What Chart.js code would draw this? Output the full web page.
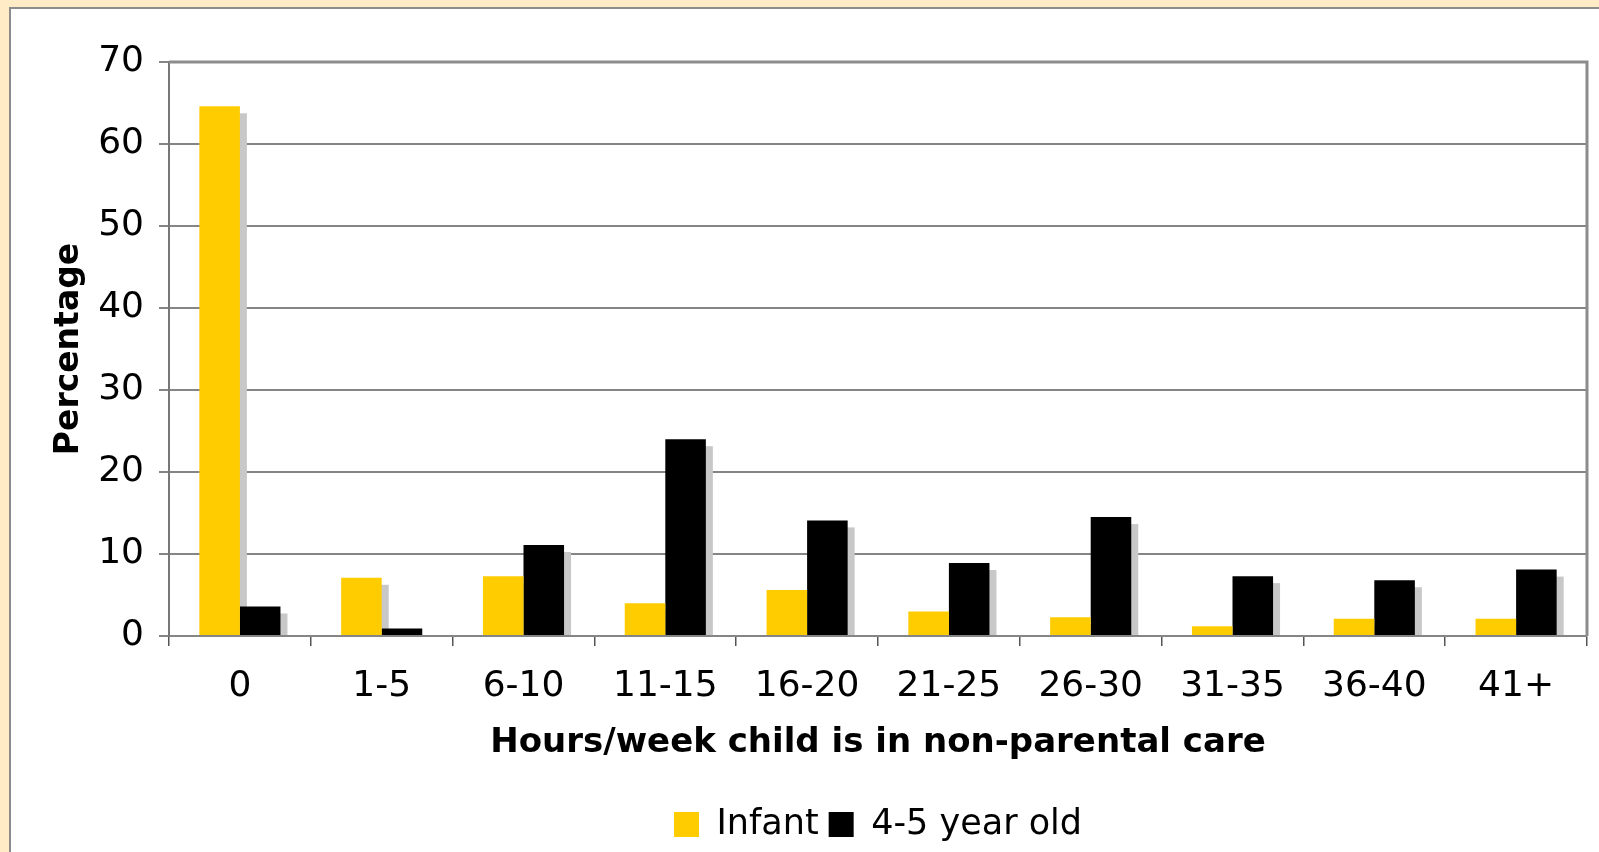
<!DOCTYPE html>
<html>
<head>
<meta charset="utf-8">
<script src="https://cdn.jsdelivr.net/npm/chart.js@4.4.0/dist/chart.umd.min.js"></script>
<style>
  html, body { margin: 0; padding: 0; background: #ffebc6; overflow: hidden; }
  #panel { position: absolute; left: 9px; top: 7px; width: 1620px; height: 880px;
           background: #fff; border: 2px solid #8c8c8c; }
  #chart { position: absolute; left: 0; top: 0; }
</style>
</head>
<body>
<div id="panel"></div>
<canvas id="chart" width="1599" height="852"></canvas>
<script>
// hours of non-parental care per week
const categories = ['0', '1-5', '6-10', '11-15', '16-20', '21-25', '26-30', '31-35', '36-40', '41+'];
const infant     = [64.6, 7.1, 7.3, 4.0, 5.6, 3.0, 2.3, 1.2, 2.1, 2.1];
const preschool  = [3.6, 0.9, 11.1, 24.0, 14.1, 8.9, 14.5, 7.3, 6.8, 8.1];
const seriesNames = ['Infant', '4-5 year old'];
const yTicks = [0, 10, 20, 30, 40, 50, 60, 70];

const FONT = 'DejaVu Sans, Verdana, sans-serif';
const GRID = '#858585';

// grey drop shadow behind each bar, taken from the bar elements themselves
const barShadow = {
    id: 'barShadow',
    beforeDatasetsDraw(chart) {
        const { ctx, chartArea: a } = chart;
        ctx.save();
        ctx.beginPath();
        ctx.rect(a.left, a.top, a.right - a.left, a.bottom - a.top);
        ctx.clip();
        ctx.fillStyle = '#c8c8c8';
        chart.getSortedVisibleDatasetMetas().forEach(meta => {
            meta.data.forEach(bar => {
                const p = bar.getProps(['x', 'y', 'base', 'width'], true);
                const top = p.y + 7;
                if (p.base - top > 0) ctx.fillRect(p.x - p.width / 2 + 7, top, p.width, p.base - top);
            });
        });
        ctx.restore();
    }
};

// heavier frame on top and right of the plot
const plotFrame = {
    id: 'plotFrame',
    afterDraw(chart) {
        const { ctx, chartArea: a } = chart;
        ctx.save();
        ctx.strokeStyle = '#8c8c8c';
        ctx.lineWidth = 3;
        ctx.beginPath();
        ctx.moveTo(a.left, a.top);
        ctx.lineTo(a.right, a.top);
        ctx.lineTo(a.right, a.bottom);
        ctx.stroke();
        ctx.restore();
    }
};

new Chart(document.getElementById('chart'), {
    type: 'bar',
    data: {
        labels: categories,
        datasets: [
            { label: seriesNames[0], data: infant, backgroundColor: '#ffcc00' },
            { label: seriesNames[1], data: preschool, backgroundColor: '#000000' }
        ]
    },
    options: {
        responsive: false,
        animation: false,
        devicePixelRatio: 1,
        categoryPercentage: 0.572,
        barPercentage: 1,
        layout: { padding: { top: 62, right: 12, bottom: 0, left: 0 } },
        plugins: {
            tooltip: { enabled: false },
            legend: {
                position: 'bottom',
                fullSize: false,
                labels: {
                    boxWidth: 25, boxHeight: 25, padding: 10,
                    color: '#000', font: { family: FONT, size: 35 }
                }
            }
        },
        scales: {
            x: {
                grid: { drawOnChartArea: false, drawTicks: true, tickLength: 10, color: '#555', lineWidth: 1.5 },
                border: { color: GRID, width: 2 },
                ticks: { color: '#000', font: { family: FONT, size: 36 }, padding: 19, maxRotation: 0 },
                title: {
                    display: true, text: 'Hours/week child is in non-parental care', color: '#000',
                    font: { family: FONT, size: 34, weight: 'bold' }, padding: { top: 0, bottom: 33 }
                },
                afterFit(s) { s.height = 161; }
            },
            y: {
                min: 0, max: 70,
                afterBuildTicks(s) { s.ticks = yTicks.map(v => ({ value: v })); },
                grid: { color: GRID, lineWidth: 2, tickLength: 10 },
                border: { color: '#777', width: 2 },
                ticks: { color: '#000', font: { family: FONT, size: 36 }, padding: 15 },
                title: {
                    display: true, text: 'Percentage', color: '#000',
                    font: { family: FONT, size: 33, weight: 'bold' }, padding: { top: 50, bottom: 0 }
                },
                afterFit(s) { s.width = 169; }
            }
        }
    },
    plugins: [barShadow, plotFrame]
});
</script>
</body>
</html>
